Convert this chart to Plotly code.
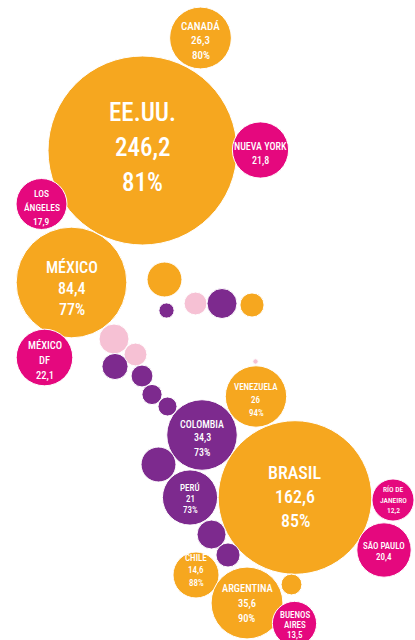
import math
import plotly.graph_objects as go

W, H = 415, 640

# --- data -------------------------------------------------------------
names = [
    "CANADÁ", "EE.UU.", "NUEVA YORK", "LOS<br>ÁNGELES", "MÉXICO", "MÉXICO<br>DF",
    "VENEZUELA", "COLOMBIA", "PERÚ", "BRASIL", "RÍO DE<br>JANEIRO", "SÃO PAULO",
    "CHILE", "ARGENTINA", "BUENOS<br>AIRES",
    "", "", "", "", "", "", "", "", "", "", "", "", "", "", "", "",
]
values = [
    26.3, 246.2, 21.8, 17.9, 84.4, 22.1,
    26.0, 34.3, 21.0, 162.6, 12.2, 20.4,
    14.6, 35.6, 13.5,
    8.4, 1.6, 3.6, 6.2, 4.0, 6.2, 3.6, 4.7, 3.3, 2.8, 2.5, 0.2, 8.4, 5.8, 4.0, 3.0,
]
shares = [
    80, 81, None, None, 77, None,
    94, 73, 73, 85, None, None,
    88, 90, None,
    None, None, None, None, None, None, None, None, None, None, None, None, None, None, None, None,
]
kinds = [
    "alto", "alto", "ciudad", "ciudad", "alto", "ciudad",
    "alto", "medio", "medio", "alto", "ciudad", "ciudad",
    "alto", "alto", "ciudad",
    "alto", "medio", "bajo", "medio", "alto", "bajo", "bajo", "medio", "medio", "medio",
    "medio", "bajo", "medio", "medio", "medio", "alto",
]

# --- layout of the bubbles (pixel space, y downwards) ------------------
pos_x = [
    200.5, 142.5, 260.5, 41.5, 71.5, 44.5,
    256, 202, 190, 295, 393, 384,
    196, 247, 294.5,
    164.5, 166.5, 195.5, 222, 252, 114, 135.5, 115, 142, 152, 167.5,
    255.5, 158.5, 211.5, 228, 291.5,
]
pos_y = [
    38, 150.5, 150, 204, 282.5, 357.5,
    396.5, 435, 497.5, 497.5, 500, 550,
    575, 603, 623.5,
    279.5, 310.5, 303.5, 303.5, 305, 339, 354.5, 366.5, 376, 394.5, 406.5,
    361.5, 464.5, 534.5, 555, 584.5,
]
# label styling: font size, line step and vertical nudge of the text block
label_font = [11, 25, 10, 9.5, 16, 10.5, 9, 10, 9, 18, 7.5, 9, 9, 10.5, 9]
label_step = [14.5, 35, 15, 14, 21, 15, 13, 14, 11.5, 24, 10.5, 11.5, 12.5, 15, 10]
label_dy = [2.5, -3, 3.5, 3, 5.5, 2.5, 3.5, 3, 1, -1.5, 0, 1.5, -5, 0, 1.5]

COLORS = {
    "alto": "#F6A71F",
    "medio": "#7D2A8E",
    "bajo": "#F6C1D4",
    "ciudad": "#E5087E",
}
FONT = "Roboto Condensed, Open Sans Condensed, sans-serif"

# bubble area proportional to the value
K = 94.5 / math.sqrt(246.2)
diam = [2 * K * math.sqrt(v) for v in values]


def fmt(v):
    s = f"{v:.1f}".replace(".", ",")
    return s[:-2] if s.endswith(",0") else s


fig = go.Figure()
fig.add_trace(go.Scatter(
    x=pos_x, y=pos_y, mode="markers",
    marker=dict(
        size=diam, sizemode="diameter",
        color=[COLORS[k] for k in kinds],
        opacity=1,
        line=dict(color="white", width=1),
    ),
    text=[n.replace("<br>", " ") for n in names],
    customdata=values,
    hovertemplate="%{text}: %{customdata}<extra></extra>",
    cliponaxis=True,
))

annotations = []
for i, name in enumerate(names):
    if not name:
        continue
    lines = name.split("<br>") + [fmt(values[i])]
    if shares[i] is not None:
        lines.append(f"{shares[i]}%")
    n = len(lines)
    for j, line in enumerate(lines):
        annotations.append(dict(
            x=pos_x[i],
            y=pos_y[i] + label_dy[i] + (j - (n - 1) / 2) * label_step[i],
            xref="x", yref="y", text=line, showarrow=False,
            font=dict(family=FONT, size=label_font[i], color="white", weight=500),
            xanchor="center", yanchor="middle",
        ))

fig.update_layout(
    width=W, height=H, autosize=False,
    margin=dict(l=0, r=0, t=0, b=0, pad=0),
    paper_bgcolor="white", plot_bgcolor="white",
    showlegend=False,
    xaxis=dict(range=[0, W], visible=False, fixedrange=True),
    yaxis=dict(range=[H, 0], visible=False, fixedrange=True),
    annotations=annotations,
)

fig.write_html("out.html", config={"displayModeBar": False})
